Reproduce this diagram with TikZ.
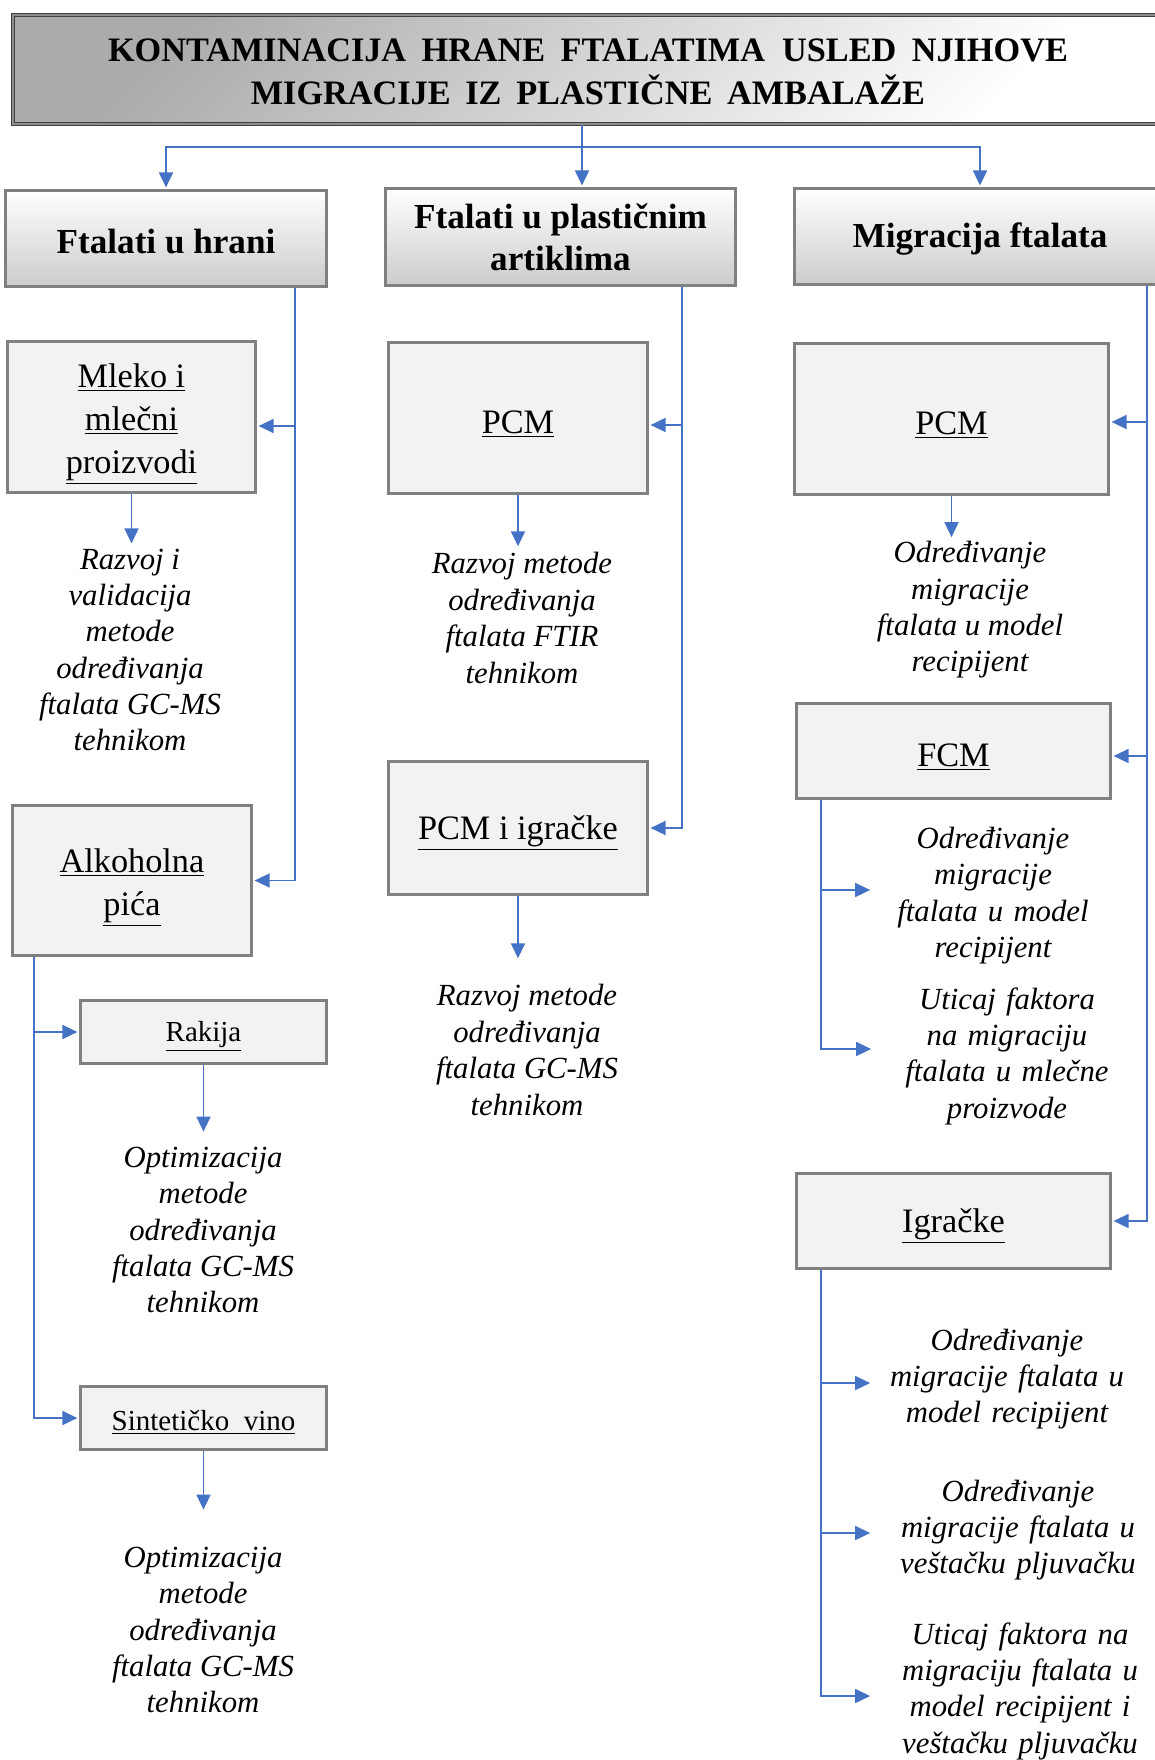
\documentclass[tikz,border=0pt]{standalone}
\usepackage{fontspec}
\setmainfont{Liberation Serif}
\usepackage{tikz}
\usetikzlibrary{arrows.meta}
\definecolor{lineblue}{RGB}{68,114,196}
\definecolor{boxgray}{RGB}{128,128,128}
\definecolor{boxfill}{RGB}{242,242,242}
\newcommand{\lowr}[2][4pt]{\raisebox{-#1}[\height][\depth]{#2}}
\tikzset{% 
    hdr/.style={draw=black!75,double=black!45,double distance=1pt,line width=0.6pt,
        top color=black!33,bottom color=white,shading angle=45,inner sep=0pt,align=center,
        font=\fontsize{19.5}{24.4}\selectfont\bfseries},
    cat/.style={draw=boxgray,line width=1.7pt,top color=white,bottom color=black!20,
        inner sep=0pt,align=center,font=\fontsize{20}{23.8}\selectfont\bfseries,
        execute at begin node={\rule{0pt}{0.85em}}},
    sub/.style={draw=boxgray,line width=1.8pt,fill=boxfill,inner sep=0pt,align=center,
        font=\fontsize{19.5}{24.4}\selectfont,execute at begin node={\rule{0pt}{1em}}},
    txt/.style={inner sep=0pt,align=center,font=\fontsize{17.5}{20.7}\selectfont\itshape},
    arr/.style={draw=lineblue,line width=0.75pt,shorten >=0.9pt,-{Triangle[length=8.5pt,width=8pt]}}
}
\begin{document}
\begin{tikzpicture}[x=0.02cm,y=-0.02cm]
    \useasboundingbox (0,0) rectangle (1155,1760);
    \clip (0,0) rectangle (1155,1760);
    \node[hdr,minimum width=23cm,minimum height=2.18cm] (title) at (588,69.5)
        {\lowr[1.4pt]{KONTAMINACIJA\hspace{.2em} HRANE\hspace{.2em} FTALATIMA\hspace{.25em} USLED\hspace{.2em} NJIHOVE}\\
         \lowr[1.4pt]{MIGRACIJE\hspace{.18em} IZ\hspace{.18em} PLASTIČNE\hspace{.18em} AMBALAŽE}};
    \node[cat,minimum width=6.42cm,minimum height=1.92cm] (hrani) at (166,238.5) {Ftalati u hrani};
    \node[cat,minimum width=7cm,minimum height=1.94cm] (plast) at (560.5,237) {Ftalati u plastičnim\\artiklima};
    \node[cat,minimum width=7.42cm,minimum height=1.92cm] (migr) at (980,236.5) {Migracija ftalata};
    \node[sub,minimum width=4.96cm,minimum height=3.02cm] (mleko) at (131.5,417)
        {\lowr{\underline{Mleko i}}\\\lowr{\underline{mlečni}}\\\lowr{\underline{proizvodi}}};
    \node[sub,minimum width=4.78cm,minimum height=3cm] (alkoh) at (132,880.5)
        {\lowr{\underline{Alkoholna}}\\\lowr{\underline{pića}}};
    \node[sub,font=\fontsize{16.5}{20}\selectfont,minimum width=4.92cm,minimum height=1.26cm] (rakija)
        at (203.5,1032) {\underline{Rakija}};
    \node[sub,font=\fontsize{16.5}{20}\selectfont,minimum width=4.92cm,minimum height=1.26cm] (vino)
        at (203.5,1418) {\underline{Sintetičko\ \ vino}};
    \node[sub,minimum width=5.18cm,minimum height=3.02cm] (pcm1) at (518,418) {\underline{PCM}};
    \node[sub,minimum width=5.18cm,minimum height=2.66cm] (pcmig) at (518,828) {\underline{PCM i igračke}};
    \node[sub,minimum width=6.28cm,minimum height=3.02cm] (pcm2) at (951.5,419) {\underline{PCM}};
    \node[sub,minimum width=6.28cm,minimum height=1.9cm] (fcm) at (953.5,751) {\underline{FCM}};
    \node[sub,minimum width=6.28cm,minimum height=1.9cm] (igr) at (953.5,1221) {\underline{Igračke}};
    \node[txt] (t1) at (130,650) {Razvoj i\\validacija\\metode\\određivanja\\ftalata GC-MS\\tehnikom};
    \node[txt] (t2) at (522,618) {Razvoj metode\\određivanja\\ftalata FTIR\\tehnikom};
    \node[txt] (t3) at (970,610) {Određivanje\\migracije\\ftalata u model\\recipijent};
    \node[txt,text width=4.84cm] (t4) at (993,895.5) {Određivanje\\migracije\\ftalata u model\\recipijent};
    \node[txt,text width=5.36cm] (t5) at (1007,1056) {Uticaj faktora\\na migraciju\\ftalata u mlečne\\proizvode};
    \node[txt] (t6) at (527,1050) {Razvoj metode\\određivanja\\ftalata GC-MS\\tehnikom};
    \node[txt] (t7) at (203,1230) {Optimizacija\\metode\\određivanja\\ftalata GC-MS\\tehnikom};
    \node[txt] (t8) at (203,1630) {Optimizacija\\metode\\određivanja\\ftalata GC-MS\\tehnikom};
    \node[txt,text width=5.4cm] (t9) at (1007,1379) {Određivanje\\migracije ftalata u\\model recipijent};
    \node[txt,text width=5.84cm] (t10) at (1018,1530) {Određivanje\\migracije ftalata u\\veštačku pljuvačku};
    \node[txt,text width=5.92cm] (t11) at (1020,1691) {Uticaj faktora na\\migraciju ftalata u\\model recipijent i\\veštačku pljuvačku};
    \coordinate (tj) at (582,147);
    \coordinate (lt) at (295,0);
    \coordinate (mt) at (682,0);
    \coordinate (rt) at (1147,0);
    \coordinate (at) at (34,0);
    \coordinate (ft) at (821,0);
    \draw[arr] (title.south -| tj) -- (plast.north -| tj);
    \draw[arr] (tj) -| (hrani.north);
    \draw[arr] (tj) -| (migr.north);
    \draw[arr] (hrani.south -| lt) |- (alkoh.east);
    \draw[arr] ([yshift=-0.18cm]mleko.east -| lt) -- ([yshift=-0.18cm]mleko.east);
    \draw[arr] (plast.south -| mt) |- (pcmig.east);
    \draw[arr] ([yshift=-0.14cm]pcm1.east -| mt) -- ([yshift=-0.14cm]pcm1.east);
    \draw[arr] (migr.south -| rt) |- (igr.east);
    \draw[arr] ([yshift=-0.06cm]pcm2.east -| rt) -- ([yshift=-0.06cm]pcm2.east);
    \draw[arr] ([yshift=-0.1cm]fcm.east -| rt) -- ([yshift=-0.1cm]fcm.east);
    \draw[arr] (alkoh.south -| at) |- (vino.west);
    \draw[arr] (rakija.west -| at) -- (rakija.west);
    \draw[arr] (fcm.south -| ft) |- ([yshift=0.14cm]t5.west);
    \draw[arr] ([yshift=0.11cm]t4.west -| ft) -- ([yshift=0.11cm]t4.west);
    \draw[arr] (igr.south -| ft) |- ([yshift=-0.1cm]t11.west);
    \draw[arr] ([yshift=-0.08cm]t9.west -| ft) -- ([yshift=-0.08cm]t9.west);
    \draw[arr] ([yshift=-0.06cm]t10.west -| ft) -- ([yshift=-0.06cm]t10.west);
    \draw[arr,shorten >=0.1cm] (mleko.south) -- (mleko.south |- t1.north);
    \draw[arr,shorten >=0.12cm] (pcm1.south) -- (pcm1.south |- t2.north);
    \draw[arr,shorten >=0.08cm] (pcm2.south) -- (pcm2.south |- t3.north);
    \draw[arr,shorten >=0.52cm] (pcmig.south) -- (pcmig.south |- t6.north);
    \draw[arr,shorten >=0.3cm] (rakija.south) -- (rakija.south |- t7.north);
    \draw[arr,shorten >=0.74cm] (vino.south) -- (vino.south |- t8.north);
\end{tikzpicture}
\end{document}
